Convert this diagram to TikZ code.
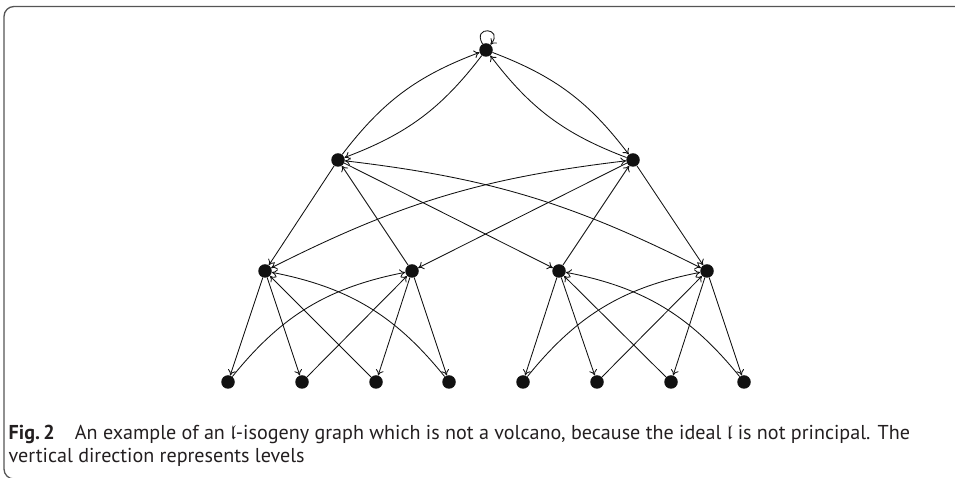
\documentclass[tikz,border=0pt]{standalone}
\usepackage{amssymb}
\usepackage{fontspec}
\newfontfamily\capfont{PT Sans}
\usetikzlibrary{arrows.meta}
\definecolor{ink}{HTML}{111111}
\definecolor{captxt}{HTML}{231F20}
\definecolor{framec}{HTML}{555555}
\tikzset{
  vtx/.style={circle, fill=ink, inner sep=0pt, minimum size=13.5pt},
  arr/.style={draw=ink, line width=0.85pt, -{To[length=5.5pt,width=8pt]}},
  darr/.style={draw=ink, line width=0.85pt, {To[length=5.5pt,width=8pt]}-{To[length=5.5pt,width=8pt]}},
}
\begin{document}
\begin{tikzpicture}[x=1pt,y=1pt]
\useasboundingbox (0,0) rectangle (955,478);
\begin{scope}
\clip (0,0) rectangle (955,478);
\draw[framec, line width=1.3pt, rounded corners=10pt] (960,471.5) -- (4,471.5) -- (4,-1) -- (60,-1);
\end{scope}
% nodes
\node[vtx] (T) at (486,428) {};
\node[vtx] (A) at (338,318) {};
\node[vtx] (B) at (633,318) {};
\node[vtx] (C) at (265,207) {};
\node[vtx] (D) at (412,207) {};
\node[vtx] (E) at (559,207) {};
\node[vtx] (F) at (707,207) {};
\node[vtx] (b1) at (228,96) {};
\node[vtx] (b2) at (302,96) {};
\node[vtx] (b3) at (376,96) {};
\node[vtx] (b4) at (449,96) {};
\node[vtx] (b5) at (523,96) {};
\node[vtx] (b6) at (597,96) {};
\node[vtx] (b7) at (671,96) {};
\node[vtx] (b8) at (744,96) {};
% loop
\draw[arr] (T) to[out=120,in=50,min distance=22pt] (T);
% top level
\draw[arr] (A) to[bend left=16] (T);
\draw[arr] (T) to[bend left=16] (A);
\draw[arr] (T) to[bend left=16] (B);
\draw[arr] (B) to[bend left=16] (T);
% level 1 - level 2
\draw[arr] (A) -- (C);
\draw[arr] (D) -- (A);
\draw[arr] (A) -- (E);
\draw[arr] (B) -- (D);
\draw[arr] (E) -- (B);
\draw[arr] (B) -- (F);
\draw[darr] (A) to[bend left=10] (F);
\draw[darr] (C) to[bend left=10] (B);
% left group
\draw[arr] (C) -- (b1);
\draw[arr] (C) -- (b2);
\draw[arr] (b3) -- (C);
\draw[arr] (b4) to[bend right=20] (C);
\draw[arr] (D) -- (b3);
\draw[arr] (D) -- (b4);
\draw[arr] (b2) -- (D);
\draw[arr] (b1) to[bend left=20] (D);
% right group
\draw[arr] (E) -- (b5);
\draw[arr] (E) -- (b6);
\draw[arr] (b7) -- (E);
\draw[arr] (b8) to[bend right=20] (E);
\draw[arr] (F) -- (b7);
\draw[arr] (F) -- (b8);
\draw[arr] (b6) -- (F);
\draw[arr] (b5) to[bend left=20] (F);
% caption
\node[anchor=base west, inner sep=0pt, text=captxt, font=\capfont\fontsize{20.1}{24}\selectfont] (cap1) at (8.5,38)
  {\textbf{Fig.\,2}\hspace{1.0em}An example of an $\mathfrak{l}$-isogeny graph which is not a volcano, because the ideal $\mathfrak{l}$ is not principal. The};
\node[anchor=base west, inner sep=0pt, text=captxt, font=\capfont\fontsize{20.1}{24}\selectfont] (cap2) at (8.5,15)
  {vertical direction represents levels};
\end{tikzpicture}
\end{document}
